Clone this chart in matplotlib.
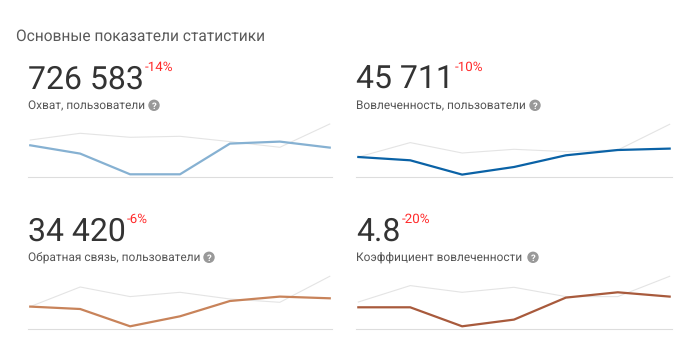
import matplotlib
matplotlib.use('Agg')
from matplotlib import pyplot as plt
from matplotlib.patches import Circle
from matplotlib.transforms import IdentityTransform

plt.rcParams['font.family'] = ['Roboto', 'DejaVu Sans']
plt.rcParams['text.hinting'] = 'no_hinting'

W, H = 686, 364

title = 'Основные показатели статистики'
numbers = ['726 583', '45 711', '34 420', '4.8']
changes = ['-14%', '-10%', '-6%', '-20%']
labels = ['Охват, пользователи', 'Вовлеченность, пользователи',
          'Обратная связь, пользователи', 'Коэффициент вовлеченности']
colors = ['#86b1d2', '#0a62a6', '#c8835a', '#a85a3c']

periods = [0, 1, 2, 3, 4, 5, 6]

reach = [32, 23.7, 3, 3, 33.7, 35.7, 29.7]
reach_prev = [37.3, 44, 40, 41, 35.7, 30, 53.3]
engaged = [20.3, 17, 2.7, 10.3, 22, 27.3, 28.7]
engaged_prev = [20.3, 34.7, 24.3, 28, 25.7, 27.3, 53]
feedback = [22.7, 20.3, 3, 13, 28.3, 32.7, 31]
feedback_prev = [22.7, 42.3, 32.7, 37, 30.3, 27, 53]
rate = [22, 22, 3, 9.7, 31.7, 37, 32.7]
rate_prev = [27.3, 43.7, 37, 42, 32.7, 32.7, 53]

current = [reach, engaged, feedback, rate]
previous = [reach_prev, engaged_prev, feedback_prev, rate_prev]

# pixel layout of each panel
lefts = [28, 356, 28, 356]
rights = [332, 672, 332, 672]
bases = [177.3, 177.3, 329.3, 329.3]
change_x = [144.5, 454.5, 126.5, 401.5]
icon_x = [154, 535, 209, 533]


def fx(px):
    return px / W


def fy(py):
    return 1 - py / H


fig = plt.figure(figsize=(W / 100, H / 100), dpi=100)
fig.text(fx(16), fy(40.5), title, fontsize=11.2, color='#5a5a5a', va='baseline')

for i in range(4):
    left, right, base = lefts[i], rights[i], bases[i]
    ax = fig.add_axes([fx(left), fy(base), (right - left) / W, 60 / H])
    ax.plot(periods, previous[i], color='#e4e4e4', lw=0.8)
    ax.plot(periods, current[i], color=colors[i], lw=1.6)
    ax.set_xlim(-0.045, 6.045)
    ax.set_ylim(0, 60)
    ax.set_xticks([])
    ax.set_yticks([])
    for side in ['top', 'left', 'right']:
        ax.spines[side].set_visible(False)
    ax.spines['bottom'].set_color('#dddddd')
    ax.spines['bottom'].set_linewidth(0.8)
    ax.patch.set_alpha(0)

    # text block sits at a fixed distance above the baseline
    fig.text(fx(left), fy(base - 88.3), numbers[i], fontsize=23, color='#333333', va='baseline')
    fig.text(fx(change_x[i]), fy(base - 106.3), changes[i], fontsize=9.6, color='#ff2a2a', va='baseline')
    fig.text(fx(left), fy(base - 68.3), labels[i], fontsize=8.6, color='#555555', va='baseline')

    fig.add_artist(Circle((icon_x[i], H - (base - 72)), 5, transform=IdentityTransform(), color='#999999'))
    fig.text(fx(icon_x[i]), fy(base - 72), '?', fontsize=6.8, color='white', ha='center', va='center_baseline',
             fontweight='bold')

fig.savefig('out.png', dpi=100)
